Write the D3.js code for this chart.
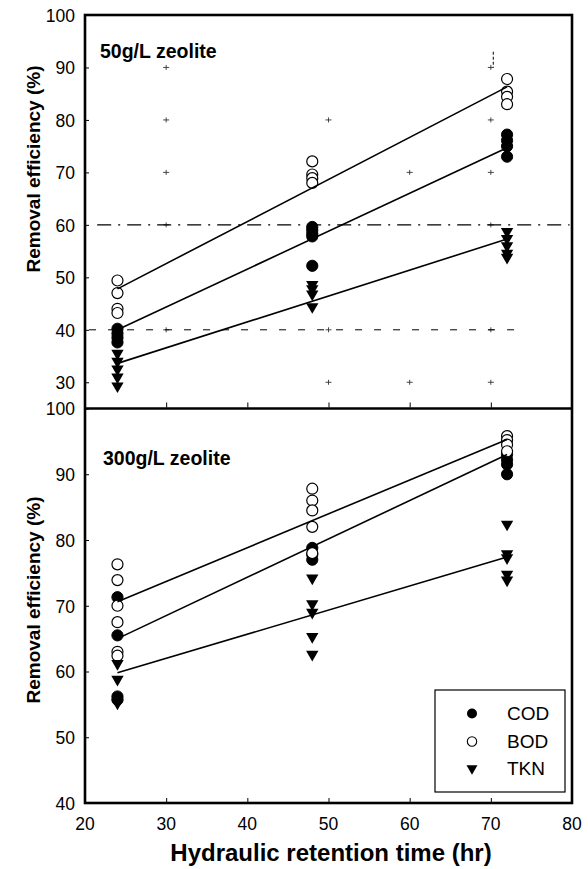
<!DOCTYPE html>
<html>
<head>
<meta charset="utf-8">
<script src="https://cdn.jsdelivr.net/npm/d3@7/dist/d3.min.js"></script>
<style>
  html, body { margin: 0; padding: 0; background: #fff; }
  svg { display: block; }
  text { font-family: Arial, "Liberation Sans", Helvetica, sans-serif; fill: #000; }
</style>
</head>
<body>
<svg id="chart" width="588" height="869"></svg>
<script>
// Hydraulic retention times (hr) at which samples were taken
const retentionTimes = [24, 48, 72];
const fitTimes = [24, 72];

// 50 g/L zeolite: removal efficiency (%) per retention time
const cod50 = [[40.2, 39.3, 38.5, 37.6], [59.6, 59.0, 58.3, 57.8, 52.2], [77.2, 76.1, 75.0, 73.0]];
const bod50 = [[49.4, 47.0, 44.0, 43.2], [72.1, 69.6, 68.9, 68.0], [87.8, 85.4, 84.4, 83.0]];
const tkn50 = [[35.5, 34.0, 32.5, 31.0, 29.3], [48.6, 47.8, 46.8, 44.4], [58.7, 57.4, 56.0, 54.6, 53.8]];

// 300 g/L zeolite: removal efficiency (%) per retention time
const cod300 = [[71.3, 65.5, 56.2, 55.7], [78.8, 77.8, 77.0], [93.0, 92.2, 91.5, 90.0]];
const bod300 = [[76.3, 73.9, 70.0, 67.5, 63.0, 62.4], [87.8, 86.0, 84.5, 82.0, 78.0], [95.8, 95.2, 94.5, 93.5]];
const tkn300 = [[61.2, 58.8, 55.2], [74.2, 70.3, 69.0, 65.3, 62.6], [82.4, 77.9, 77.3, 74.8, 73.9]];

// Linear trend lines (values at 24 h and 72 h)
const codFit50 = [40.0, 74.7];
const bodFit50 = [47.8, 86.3];
const tknFit50 = [33.6, 57.3];
const codFit300 = [65.0, 93.0];
const bodFit300 = [70.6, 95.3];
const tknFit300 = [59.8, 77.4];

const xTicks = [20, 30, 40, 50, 60, 70, 80];
const yTicks50 = [30, 40, 50, 60, 70, 80, 90, 100];
const yTicks300 = [40, 50, 60, 70, 80, 90, 100];
const panelTitles = ["50g/L zeolite", "300g/L zeolite"];
const seriesNames = ["COD", "BOD", "TKN"];
const xTitle = "Hydraulic retention time (hr)";
const yTitle = "Removal efficiency (%)";

// Faint grid crosses left in the upper panel: [hr, %]
const gridCrosses50 = [[30, 90], [70, 90], [30, 80], [50, 80], [70, 80], [30, 70], [60, 70], [70, 70],
  [30, 60], [70, 60], [30, 40], [50, 40], [70, 40], [50, 30], [60, 30], [70, 30]];

const svg = d3.select("#chart");
const plotLeft = 85, plotRight = 572, plotTop = 15, plotMid = 408.5, plotBottom = 803;

const x = d3.scaleLinear().domain([20, 80]).range([plotLeft, plotRight]);
const yTop = d3.scaleLinear().domain([25, 100]).range([plotMid, plotTop]);
const yBot = d3.scaleLinear().domain([40, 100]).range([plotBottom, plotMid]);

const triangle = d3.symbol().type(d3.symbolTriangle);

function drawMarkers(g, y, cod, bod, tkn) {
  const flat = arr => arr.flatMap((vals, i) => vals.map(v => ({ t: retentionTimes[i], v })));
  g.selectAll(null).data(flat(cod)).join("circle")
    .attr("cx", d => x(d.t)).attr("cy", d => y(d.v)).attr("r", 5.6)
    .attr("fill", "#000").attr("stroke", "#000").attr("stroke-width", 1);
  g.selectAll(null).data(flat(bod)).join("circle")
    .attr("cx", d => x(d.t)).attr("cy", d => y(d.v)).attr("r", 5.5)
    .attr("fill", "#fff").attr("stroke", "#000").attr("stroke-width", 1.2);
  g.selectAll(null).data(flat(tkn)).join("path")
    .attr("d", triangle.size(66)())
    .attr("transform", d => `translate(${x(d.t)},${y(d.v)}) rotate(180)`)
    .attr("fill", "#000");
}

function drawFits(g, y, fits) {
  const line = d3.line().x((d, i) => x(fitTimes[i])).y(d => y(d));
  fits.forEach(f => {
    g.append("path").attr("d", line(f))
      .attr("fill", "none").attr("stroke", "#000").attr("stroke-width", 1.6);
  });
}

function drawYAxis(y, ticks) {
  const ax = svg.append("g").attr("transform", `translate(${plotLeft},0)`)
    .call(d3.axisLeft(y).tickValues(ticks).tickSize(-4).tickPadding(10).tickFormat(d3.format("d")));
  ax.select(".domain").remove();
  ax.selectAll("line").attr("stroke", "#000").attr("stroke-width", 1);
  ax.selectAll("text").style("font-size", "17.5px").attr("dy", "0.36em");
}

function drawXTicks(yPos) {
  const ax = svg.append("g").attr("transform", `translate(0,${yPos})`)
    .call(d3.axisBottom(x).tickValues(xTicks.slice(1, -1)).tickSize(-5).tickFormat(""));
  ax.select(".domain").remove();
  ax.selectAll("line").attr("stroke", "#000").attr("stroke-width", 1);
}

// Faint reference marks in the upper panel
const gridTop = svg.append("g");
gridCrosses50.forEach(([t, v]) => {
  gridTop.append("path")
    .attr("d", `M${x(t) - 3},${yTop(v)}H${x(t) + 3}M${x(t)},${yTop(v) - 2.5}V${yTop(v) + 2.5}`)
    .attr("stroke", "#333").attr("stroke-width", 0.9);
});
gridTop.append("line")
  .attr("x1", x(21.5)).attr("x2", x(79.7)).attr("y1", yTop(60)).attr("y2", yTop(60))
  .attr("stroke", "#000").attr("stroke-width", 1.2).attr("stroke-dasharray", "14,7,2,7");
gridTop.append("line")
  .attr("x1", x(20.5)).attr("x2", x(74)).attr("y1", yTop(40)).attr("y2", yTop(40))
  .attr("stroke", "#000").attr("stroke-width", 1).attr("stroke-dasharray", "7,12");
gridTop.append("line")
  .attr("x1", x(70.3)).attr("x2", x(70.3)).attr("y1", yTop(93)).attr("y2", yTop(90))
  .attr("stroke", "#000").attr("stroke-width", 1).attr("stroke-dasharray", "3,2");

// Data markers and trend lines
const gTop = svg.append("g");
drawMarkers(gTop, yTop, cod50, bod50, tkn50);
drawFits(gTop, yTop, [codFit50, bodFit50, tknFit50]);
const gBot = svg.append("g");
drawMarkers(gBot, yBot, cod300, bod300, tkn300);
drawFits(gBot, yBot, [codFit300, bodFit300, tknFit300]);

// Axes and frames
drawYAxis(yTop, yTicks50);
drawYAxis(yBot, yTicks300);
drawXTicks(plotMid - 1);
drawXTicks(plotBottom);

svg.append("rect").attr("x", plotLeft).attr("y", plotTop)
  .attr("width", plotRight - plotLeft).attr("height", plotBottom - plotTop)
  .attr("fill", "none").attr("stroke", "#000").attr("stroke-width", 2.6);
svg.append("line").attr("x1", plotLeft).attr("x2", plotRight).attr("y1", plotMid).attr("y2", plotMid)
  .attr("stroke", "#000").attr("stroke-width", 2.6);

// x tick labels
svg.append("g").selectAll(null).data(xTicks).join("text")
  .attr("x", d => x(d)).attr("y", 829.5).attr("text-anchor", "middle")
  .style("font-size", "17.5px").text(d => d);

// Axis titles
svg.append("text").attr("x", 331).attr("y", 861).attr("text-anchor", "middle")
  .style("font-size", "24px").style("font-weight", "bold").text(xTitle);
[169, 600].forEach(cy => {
  svg.append("text").attr("transform", `translate(40,${cy}) rotate(-90)`)
    .attr("text-anchor", "middle").style("font-size", "19px").style("font-weight", "bold").text(yTitle);
});

// Panel labels
svg.append("text").attr("x", 100).attr("y", 58).style("font-size", "19.5px").style("font-weight", "bold").text(panelTitles[0]);
svg.append("text").attr("x", 103).attr("y", 465).style("font-size", "19.5px").style("font-weight", "bold").text(panelTitles[1]);

// Legend
const lg = svg.append("g");
lg.append("rect").attr("x", 435).attr("y", 690).attr("width", 130).attr("height", 102)
  .attr("fill", "#fff").attr("stroke", "#000").attr("stroke-width", 1.2);
const rowY = [713.5, 741.5, 768.5];
lg.append("circle").attr("cx", 472).attr("cy", rowY[0]).attr("r", 5).attr("fill", "#000");
lg.append("circle").attr("cx", 472).attr("cy", rowY[1]).attr("r", 4.7).attr("fill", "#fff").attr("stroke", "#000").attr("stroke-width", 1.1);
lg.append("path").attr("d", triangle.size(52)()).attr("transform", `translate(472,${rowY[2]}) rotate(180)`).attr("fill", "#000");
lg.selectAll(null).data(seriesNames).join("text")
  .attr("x", 507).attr("y", (d, i) => rowY[i]).attr("dy", "0.36em")
  .style("font-size", "19px").text(d => d);
</script>
</body>
</html>
